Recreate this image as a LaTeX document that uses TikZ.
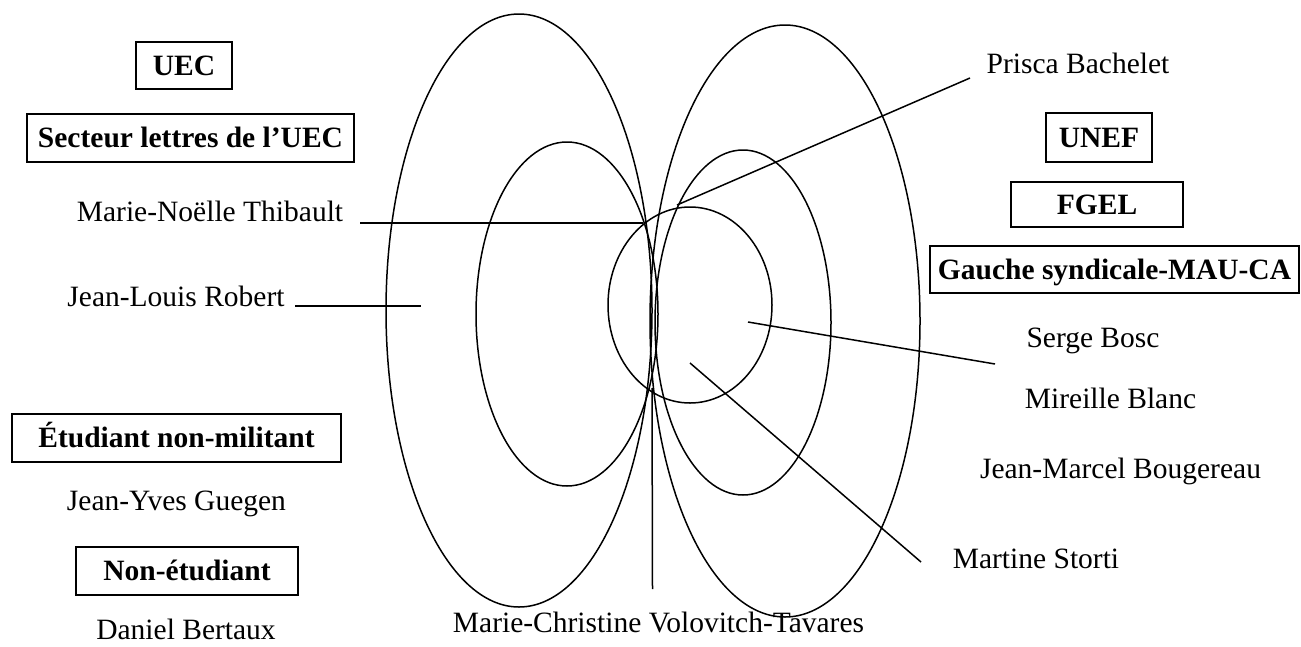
\documentclass[tikz,border=0pt]{standalone}
\usepackage{fontspec}
\setmainfont{Liberation Serif}
\begin{document}
\begin{tikzpicture}[x=1pt,y=-1pt,
  lbl/.style={font=\fontsize{29.5}{34}\selectfont, inner sep=0pt, anchor=base},
  box/.style={draw, line width=1.5pt, inner sep=0pt, font=\fontsize{29.5}{34}\selectfont\bfseries,
    text height=19pt, text depth=0pt},
  ring/.style={draw, line width=1.5pt},
  link/.style={line width=1.5pt}]
\useasboundingbox (0,0) rectangle (1301,646);

% ellipses
\draw[ring] (519,310.5) ellipse [x radius=133pt, y radius=296.5pt];
\draw[ring] (785,321) ellipse [x radius=135pt, y radius=296pt];
\draw[ring] (567,314) ellipse [x radius=91pt, y radius=172pt];
\draw[ring] (743,322.5) ellipse [x radius=88pt, y radius=172.5pt];
\draw[ring] (690,305) ellipse [x radius=82pt, y radius=98pt];

% boxes
\node[box, minimum width=96pt, minimum height=47pt] (uec) at (184,65.5) {UEC};
\node[box, minimum width=327pt, minimum height=48pt] (secteur) at (190.5,138) {Secteur lettres de l’UEC};
\node[box, minimum width=329pt, minimum height=48pt] (etud) at (176.5,438) {Étudiant non-militant};
\node[box, minimum width=222pt, minimum height=48pt] (nonetud) at (187,571) {Non-étudiant};
\node[box, minimum width=106pt, minimum height=49pt] (unef) at (1099,137.5) {UNEF};
\node[box, minimum width=172pt, minimum height=45pt] (fgel) at (1097,204.5) {FGEL};
\node[box, minimum width=369pt, minimum height=47pt] (gauche) at (1114.5,269.5) {Gauche syndicale-MAU-CA};

% names
\node[lbl] (mnt) at (210,221) {Marie-Noëlle Thibault};
\node[lbl] (jlr) at (176,306) {Jean-Louis Robert};
\node[lbl] (jyg) at (176.5,510) {Jean-Yves Guegen};
\node[lbl] (db) at (186,639) {Daniel Bertaux};
\node[lbl] (pb) at (1078,73) {Prisca Bachelet};
\node[lbl] (sb) at (1093,347) {Serge Bosc};
\node[lbl] (mb) at (1110.5,408) {Mireille Blanc};
\node[lbl] (jmb) at (1120.5,478) {Jean-Marcel Bougereau};
\node[lbl] (ms) at (1036,568) {Martine Storti};
\node[lbl] (mcvt) at (658.5,632) {Marie-Christine Volovitch-Tavares};

% connector end points
\coordinate (mnt-a) at (360,223);
\coordinate (mnt-b) at (643,223);
\coordinate (jlr-a) at (295,306);
\coordinate (jlr-b) at (421,306);
\coordinate (pb-a) at (970,78);
\coordinate (pb-b) at (677,205);
\coordinate (sb-a) at (995,364);
\coordinate (sb-b) at (748,322);
\coordinate (ms-a) at (921,562);
\coordinate (ms-b) at (690,363);
\coordinate (mcvt-a) at (652.5,589);
\coordinate (mcvt-b) at (652,388);

\draw[link] (mnt-a) -- (mnt-b);
\draw[link] (jlr-a) -- (jlr-b);
\draw[link] (pb-a) -- (pb-b);
\draw[link] (sb-a) -- (sb-b);
\draw[link] (ms-a) -- (ms-b);
\draw[link] (mcvt-a) -- (mcvt-b);
\end{tikzpicture}
\end{document}
